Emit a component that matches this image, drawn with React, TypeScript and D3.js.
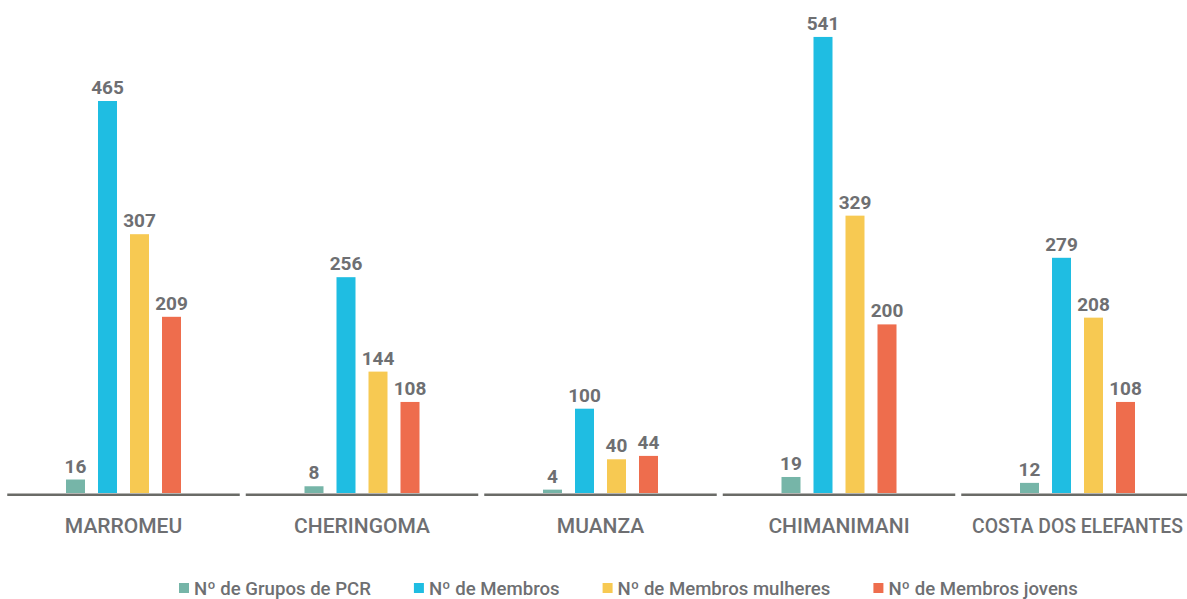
import { useEffect, useRef } from 'react'
import * as d3 from 'd3'

const districts = ['MARROMEU', 'CHERINGOMA', 'MUANZA', 'CHIMANIMANI', 'COSTA DOS ELEFANTES']
const seriesNames = ['Nº de Grupos de PCR', 'Nº de Membros', 'Nº de Membros mulheres', 'Nº de Membros jovens']
const seriesColors = ['#76b5a8', '#1fbde2', '#f7c952', '#ee6d4d']

const grupos = [16, 8, 4, 19, 12]
const membros = [465, 256, 100, 541, 279]
const mulheres = [307, 144, 40, 329, 208]
const jovens = [209, 108, 44, 200, 108]

const TEXT = '#6e6f72'
const FONT = 'Roboto, "Noto Sans", sans-serif'

export default function App() {
  const svgRef = useRef<SVGSVGElement>(null)

  useEffect(() => {
    const width = 1187, height = 599
    const svg = d3.select(svgRef.current)
    svg.selectAll('*').remove()
    svg.attr('width', width).attr('height', height)

    const series = [grupos, membros, mulheres, jovens]
    const rows = districts.map((d, i) => ({
      name: d,
      values: series.map((s, k) => ({ key: seriesNames[k], value: s[i], color: seriesColors[k] }))
    }))

    const x0 = d3.scaleBand().domain(districts).range([4.25, 1196.75])
    const x1 = d3.scaleBand().domain(seriesNames).range([-57.5, 57.5]).paddingInner(0.40625)
    const y = d3.scaleLinear().domain([0, 465]).range([493, 101])

    const groups = svg.selectAll('.grp')
      .data(rows)
      .enter()
      .append('g')
      .attr('transform', d => `translate(${x0(d.name)! + x0.bandwidth() / 2},0)`)

    // baseline segments per district
    groups.append('line')
      .attr('x1', -x0.bandwidth() / 2 + 3)
      .attr('x2', x0.bandwidth() / 2 - 3)
      .attr('y1', 494.7).attr('y2', 494.7)
      .attr('stroke', '#6a6b67')
      .attr('stroke-width', 2.6)

    groups.selectAll('rect')
      .data(d => d.values)
      .enter()
      .append('rect')
      .attr('x', d => x1(d.key)!)
      .attr('width', x1.bandwidth())
      .attr('y', d => y(d.value))
      .attr('height', d => y(0) - y(d.value))
      .attr('fill', d => d.color)

    groups.selectAll('.val')
      .data(d => d.values)
      .enter()
      .append('text')
      .text(d => d.value)
      .attr('x', d => x1(d.key)! + x1.bandwidth() / 2)
      .attr('y', d => y(d.value) - 7)
      .attr('text-anchor', 'middle')
      .attr('fill', TEXT)
      .attr('font-family', FONT)
      .attr('font-weight', 700)
      .attr('font-size', '19px')

    groups.append('text')
      .text(d => d.name)
      .attr('y', 533)
      .attr('text-anchor', 'middle')
      .attr('fill', TEXT)
      .attr('font-family', FONT)
      .attr('font-weight', 500)
      .attr('font-size', 21)
      .each(function (d) {
        // shrink a label that would run past the right edge
        const w = (this as SVGTextElement).getComputedTextLength()
        const cx = x0(d.name)! + x0.bandwidth() / 2
        const maxW = 2 * (width - 4 - cx)
        if (w > maxW) d3.select(this).attr('font-size', 21 * maxW / w)
      })

    // legend
    const legend = svg.append('g').attr('transform', 'translate(179,0)')
    let lx = 0
    seriesNames.forEach((name, k) => {
      const g = legend.append('g').attr('transform', `translate(${lx},0)`)
      g.append('rect')
        .attr('x', 0).attr('y', 583)
        .attr('width', 10).attr('height', 10)
        .attr('fill', seriesColors[k])
      const t = g.append('text')
        .text(name)
        .attr('x', 15).attr('y', 595)
        .attr('fill', TEXT)
        .attr('font-family', FONT)
        .attr('font-weight', 500)
        .attr('font-size', '18.6px')
      const w = (t.node() as SVGTextElement).getComputedTextLength()
      lx += 15 + w + 43
    })
  }, [])

  return (
    <div style={{ position: 'absolute', left: 0, top: 0 }}>
      <svg ref={svgRef} style={{ display: 'block', background: '#fff' }} />
    </div>
  )
}
